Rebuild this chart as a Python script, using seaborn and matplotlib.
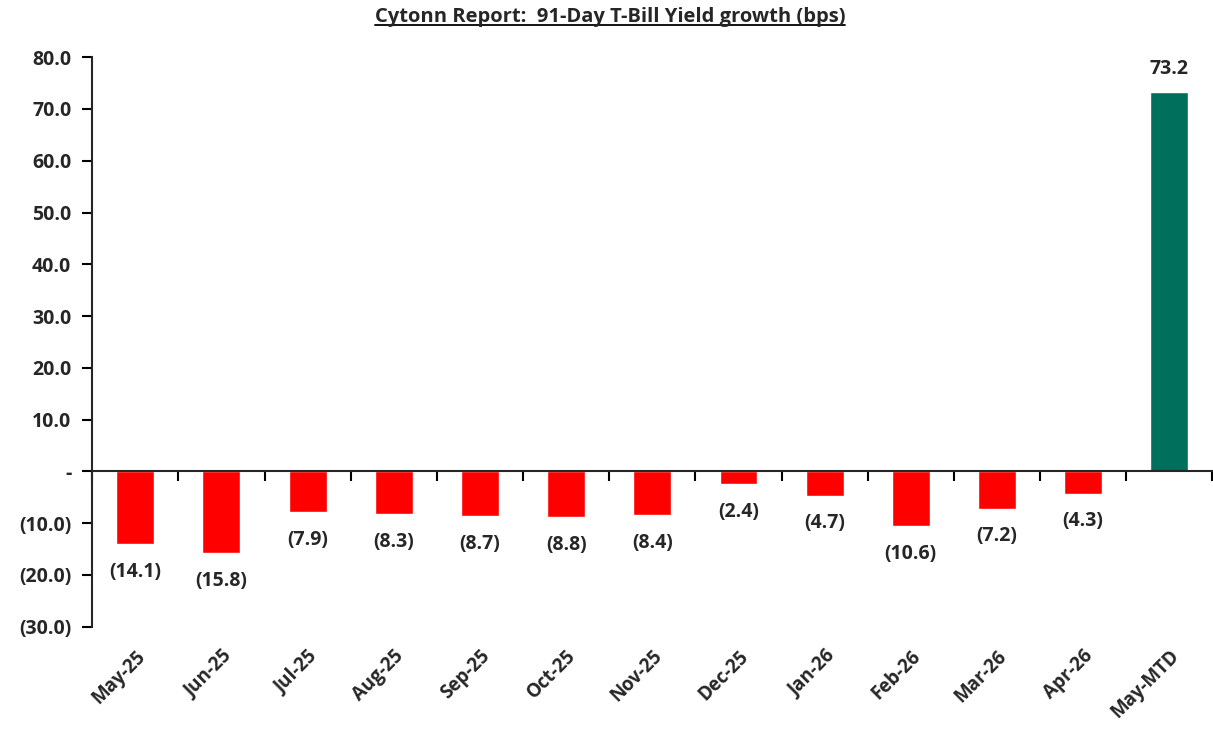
import numpy as np
import pandas as pd
import matplotlib
matplotlib.use("Agg")
import matplotlib.pyplot as plt
import seaborn as sns

# data
months = ["May-25", "Jun-25", "Jul-25", "Aug-25", "Sep-25", "Oct-25", "Nov-25",
          "Dec-25", "Jan-26", "Feb-26", "Mar-26", "Apr-26", "May-MTD"]
growth_bps = [-14.1, -15.8, -7.9, -8.3, -8.7, -8.8, -8.4, -2.4, -4.7, -10.6, -7.2, -4.3, 73.2]
y_ticks = [-30, -20, -10, 0, 10, 20, 30, 40, 50, 60, 70, 80]

RED = "#FF0000"
GREEN = "#006F5B"

sns.set_theme(style="white")
plt.rcParams["font.family"] = ["Open Sans", "DejaVu Sans"]
plt.rcParams["font.weight"] = "bold"


def fmt(v):
    if abs(v) < 1e-9:
        return "-"
    if v < 0:
        return f"({abs(v):.1f})"
    return f"{v:.1f}"


df = pd.DataFrame({"month": months, "growth": growth_bps})
colors = {m: (GREEN if v > 0 else RED) for m, v in zip(months, growth_bps)}

fig, ax = plt.subplots(figsize=(12.13, 7.33), dpi=100)
fig.subplots_adjust(left=0.076, right=0.9995, top=0.922, bottom=0.145)

sns.barplot(data=df, x="month", y="growth", hue="month", palette=colors,
            width=0.44, legend=False, saturation=1, ax=ax)

ax.set_ylim(-30, 80)
ax.set_xlim(-0.5, len(months) - 0.5)
ax.set_yticks(y_ticks)
ax.set_yticklabels([fmt(t) for t in y_ticks], fontsize=14, fontweight="bold")
ax.tick_params(axis="y", direction="out", length=7, width=1.5, color="black", pad=8, left=True)

# zero line carries boundary ticks
ax.spines["bottom"].set_position(("data", 0))
ax.spines["bottom"].set_linewidth(1.5)
ax.spines["left"].set_linewidth(1.5)
ax.spines["top"].set_visible(False)
ax.spines["right"].set_visible(False)
ax.set_xticks(np.arange(len(months)))
ax.set_xticklabels([])
ax.tick_params(axis="x", which="major", length=0)
ax.set_xticks(np.arange(len(months) + 1) - 0.5, minor=True)
ax.tick_params(axis="x", which="minor", direction="out", length=7, width=1.5,
               color="black", bottom=True)

# month labels along the bottom
sec = ax.secondary_xaxis("bottom")
sec.set_xticks(np.arange(len(months)))
sec.set_xticklabels(months, rotation=45, ha="right", rotation_mode="anchor",
                    fontsize=13.5, fontweight="bold")
sec.tick_params(length=0, pad=14)
sec.spines["bottom"].set_visible(False)

for i, v in enumerate(growth_bps):
    off = 17 if v > 0 else -20
    ax.annotate(fmt(v), (i, v), xytext=(0, off), textcoords="offset points",
                ha="center", va="center", fontsize=14, fontweight="bold")

ax.set_xlabel("")
ax.set_ylabel("")
fig.suptitle("Cytonn Report:  91-Day T-Bill Yield growth (bps)", fontsize=14.5,
             fontweight="bold", y=0.99, x=0.503)
t = fig.texts[-1]
fig.canvas.draw()
bb = t.get_window_extent().transformed(fig.transFigure.inverted())
fig.add_artist(plt.Line2D([bb.x0, bb.x1], [bb.y0 + 0.003, bb.y0 + 0.003],
                          transform=fig.transFigure, color="black", lw=1.3))

fig.savefig("out.png", dpi=100)
